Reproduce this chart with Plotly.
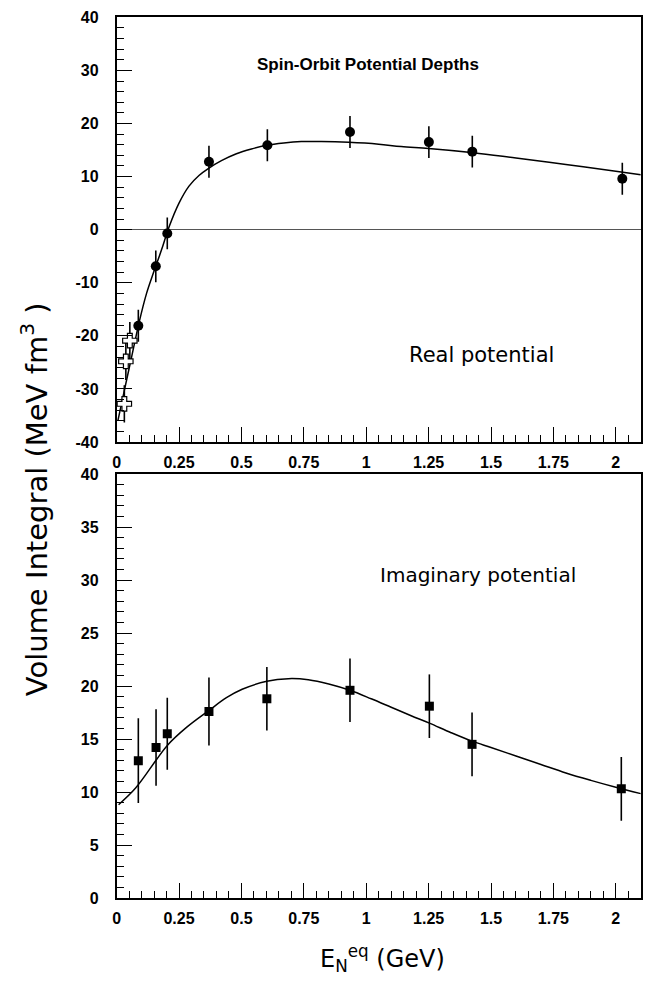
import plotly.graph_objects as go

# ---------------- data ----------------
# Real potential (top panel)
real_x = [0.087, 0.157, 0.203, 0.37, 0.604, 0.935, 1.251, 1.425, 2.026]
real_y = [-18.1, -6.9, -0.7, 12.8, 15.9, 18.4, 16.5, 14.7, 9.6]
real_err = [3, 3, 3, 3, 3, 3, 3, 3, 3]

real_open_x = [0.031, 0.037, 0.053]
real_open_y = [-32.8, -24.8, -20.9]
real_open_err = [3.5, 3.5, 3.5]

real_fit_x = [0.005, 0.03, 0.06, 0.09, 0.12, 0.15, 0.18, 0.21, 0.25, 0.29, 0.33,
              0.37, 0.42, 0.48, 0.54, 0.6, 0.67, 0.74, 0.82, 0.93, 1.05, 1.14,
              1.25, 1.43, 1.6, 1.8, 2.0, 2.1]
real_fit_y = [-36.0, -30.5, -24.0, -17.5, -12.0, -7.8, -3.8, 0.5, 5.0, 8.2, 10.2,
              11.6, 13.0, 14.3, 15.2, 15.9, 16.35, 16.6, 16.6, 16.45, 16.1, 15.65,
              15.3, 14.5, 13.5, 12.3, 11.0, 10.35]

# Imaginary potential (bottom panel)
imag_x = [0.087, 0.158, 0.203, 0.37, 0.602, 0.935, 1.253, 1.424, 2.022]
imag_y = [12.96, 14.2, 15.5, 17.6, 18.8, 19.6, 18.1, 14.5, 10.3]
imag_err = [4.0, 3.6, 3.4, 3.2, 3.0, 3.0, 3.0, 3.0, 3.0]

imag_fit_x = [0.008, 0.077, 0.158, 0.203, 0.28, 0.37, 0.44, 0.503, 0.602, 0.688,
              0.768, 0.85, 0.935, 1.02, 1.1, 1.18, 1.253, 1.34, 1.424, 1.5, 1.6,
              1.7, 1.8, 1.9, 2.0, 2.1]
imag_fit_y = [8.8, 10.4, 13.0, 14.4, 16.1, 17.7, 18.9, 19.7, 20.45, 20.7,
              20.6, 20.2, 19.6, 18.8, 18.0, 17.2, 16.5, 15.6, 14.8, 14.2, 13.4,
              12.6, 11.8, 11.1, 10.45, 9.85]

x_range = [0, 2.1]
x_ticks = [0, 0.25, 0.5, 0.75, 1, 1.25, 1.5, 1.75, 2]
x_ticktext = ["0", "0.25", "0.5", "0.75", "1", "1.25", "1.5", "1.75", "2"]
top_y_range = [-40, 40]
top_y_ticks = [-40, -30, -20, -10, 0, 10, 20, 30, 40]
top_y_ticktext = ["-40", "-30", "-20", "-10", "0", "10", "20", "30", "40"]
bot_y_range = [0, 40]
bot_y_ticks = [0, 5, 10, 15, 20, 25, 30, 35, 40]
bot_y_ticktext = ["0", "5", "10", "15", "20", "25", "30", "35", "40"]

# ---------------- figure ----------------
W, H = 654, 982
fig = go.Figure()

line_style = dict(color="black", width=1.5)
err_style = dict(type="data", visible=True, color="black", thickness=1.6, width=0)

fig.add_trace(go.Scatter(x=real_fit_x, y=real_fit_y, mode="lines", line=line_style,
                         line_shape="spline", xaxis="x", yaxis="y", showlegend=False))
fig.add_trace(go.Scatter(x=real_x, y=real_y, mode="markers",
                         marker=dict(symbol="circle", size=10, color="black"),
                         error_y=dict(array=real_err, **err_style),
                         xaxis="x", yaxis="y", showlegend=False))
fig.add_trace(go.Scatter(x=real_open_x, y=real_open_y, mode="markers",
                         marker=dict(symbol="cross", size=12, color="white",
                                     line=dict(color="black", width=1.2)),
                         error_y=dict(array=real_open_err, **err_style),
                         xaxis="x", yaxis="y", showlegend=False))

fig.add_trace(go.Scatter(x=imag_fit_x, y=imag_fit_y, mode="lines", line=line_style,
                         line_shape="spline", xaxis="x2", yaxis="y2", showlegend=False))
fig.add_trace(go.Scatter(x=imag_x, y=imag_y, mode="markers",
                         marker=dict(symbol="square", size=9, color="black"),
                         error_y=dict(array=imag_err, **err_style),
                         xaxis="x2", yaxis="y2", showlegend=False))

left, right = 113.3, 640.7
top1, bot1 = 9.5, 441.7
top2, bot2 = 474.3, 905.7
xdom = [left / W, right / W]
ydom1 = [1 - bot1 / H, 1 - top1 / H]
ydom2 = [1 - bot2 / H, 1 - top2 / H]

tickfont = dict(family="Liberation Sans, Arial, sans-serif", size=16, color="black")

def bold(labels):
    return ["<b>" + s + "</b>" for s in labels]

def xax(anchor):
    return dict(domain=xdom, range=x_range, anchor=anchor,
                tickmode="array", tickvals=x_ticks, ticktext=bold(x_ticktext),
                ticks="inside", ticklen=15, tickwidth=1.2, tickcolor="black",
                minor=dict(dtick=0.05, tick0=0, ticks="inside", ticklen=7, tickwidth=1.2,
                           tickcolor="black", showgrid=False),
                showline=True, linecolor="black", linewidth=1.5, mirror=True,
                showgrid=False, zeroline=False, tickfont=tickfont,
                ticklabelstandoff=5)

fig.update_layout(
    width=W, height=H,
    margin=dict(l=0, r=0, t=0, b=0),
    paper_bgcolor="white", plot_bgcolor="white",
    xaxis=xax("y"),
    xaxis2=xax("y2"),
    yaxis=dict(domain=ydom1, range=top_y_range, anchor="x",
               tickmode="array", tickvals=top_y_ticks, ticktext=bold(top_y_ticktext),
               ticks="inside", ticklen=16, tickwidth=1.2, tickcolor="black",
               minor=dict(dtick=2, tick0=0, ticks="inside", ticklen=8, tickwidth=1.2,
                          tickcolor="black", showgrid=False),
               showline=True, linecolor="black", linewidth=1.5, mirror=True,
               showgrid=False, zeroline=True, zerolinecolor="#555555",
               zerolinewidth=1.2, tickfont=tickfont, ticklabelstandoff=13),
    yaxis2=dict(domain=ydom2, range=bot_y_range, anchor="x2",
                tickmode="array", tickvals=bot_y_ticks, ticktext=bold(bot_y_ticktext),
                ticks="inside", ticklen=16, tickwidth=1.2, tickcolor="black",
                minor=dict(dtick=1, tick0=0, ticks="inside", ticklen=8, tickwidth=1.2,
                           tickcolor="black", showgrid=False),
                showline=True, linecolor="black", linewidth=1.5, mirror=True,
                showgrid=False, zeroline=False, tickfont=tickfont,
                ticklabelstandoff=13),
)

txtfont = "DejaVu Sans, Verdana, sans-serif"
annots = [
    dict(text="<b>Spin-Orbit Potential Depths</b>", x=366 / W, y=1 - 57 / H,
         font=dict(family="Liberation Sans, Arial, sans-serif", size=17, color="black")),
    dict(text="Real potential", x=480 / W, y=1 - 353 / H,
         font=dict(family=txtfont, size=21, color="black")),
    dict(text="Imaginary potential", x=477 / W, y=1 - 577 / H,
         font=dict(family=txtfont, size=20, color="black")),
    dict(text="Volume Integral (MeV fm<sup>3</sup> )", x=31 / W, y=1 - 500 / H,
         textangle=-90, font=dict(family=txtfont, size=29, color="black")),
    dict(text="E<sub>N</sub><sup>eq</sup> (GeV)", x=381 / W, y=1 - 967 / H,
         font=dict(family=txtfont, size=24, color="black")),
]
for a in annots:
    fig.add_annotation(xref="paper", yref="paper", showarrow=False,
                       xanchor="center", yanchor="middle", **a)

fig.write_html("out.html")
